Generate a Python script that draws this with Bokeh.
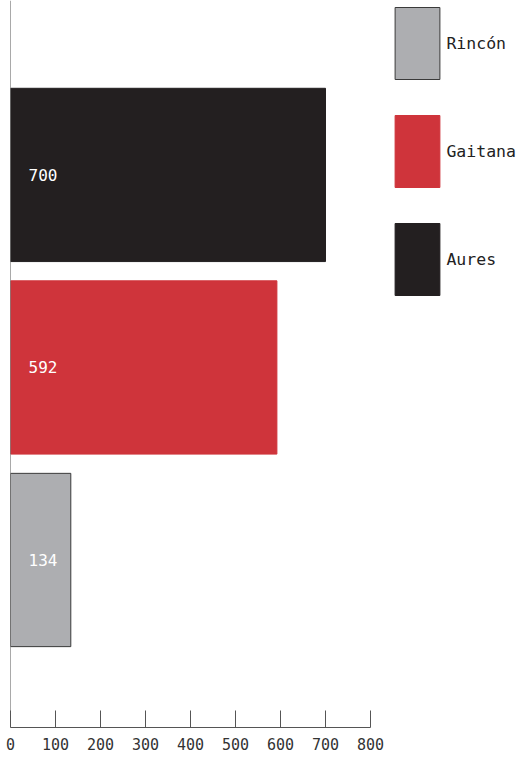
from bokeh.plotting import figure
from bokeh.models import ColumnDataSource, FixedTicker, Span, Legend, LegendItem, Range1d
from bokeh.embed import file_html
from bokeh.resources import INLINE
from bokeh.core.properties import value

categories = ["Rincón", "Gaitana", "Aures"]
values = [134, 592, 700]
colors = ["#adaeb1", "#cf343b", "#231f20"]
outlines = ["#3a3a3a", "#cf343b", "#231f20"]
x_ticks = [0, 100, 200, 300, 400, 500, 600, 700, 800]

FONT = "DejaVu Sans Mono"

src = ColumnDataSource(dict(
    y=list(range(len(categories))),
    lbl=[str(v) for v in values],
    lx=[40] * len(values),
))

# frame spans x=10..519 px; axis 0..800 occupies the first 360 px
p = figure(width=519, height=757, output_backend="svg", toolbar_location=None,
           x_range=Range1d(0, 800 * 509 / 360), y_range=Range1d(-0.87, 2.906),
           min_border_left=10, min_border_right=0, min_border_top=0, min_border_bottom=30)
p.outline_line_color = None
p.border_fill_color = "white"
p.background_fill_color = "white"
p.xgrid.visible = False
p.ygrid.visible = False
p.yaxis.visible = False

renderers = []
for i, cat in enumerate(categories):
    sub = ColumnDataSource(dict(y=[i], v=[values[i]]))
    r = p.hbar(y="y", right="v", left=0, height=0.9, source=sub,
               fill_color=colors[i], line_color=outlines[i], line_width=1)
    renderers.append(r)

p.text(x="lx", y="y", text="lbl", source=src, text_color="white",
       text_font=value(FONT), text_font_size="16px", text_baseline="middle", text_align="left")

p.add_layout(Span(location=0, dimension="height", line_color="#555555", line_width=1))

ax = p.xaxis[0]
ax.bounds = (0, 800)
ax.ticker = FixedTicker(ticks=x_ticks)
ax.major_tick_in = 17
ax.major_tick_out = 0
ax.minor_tick_in = 0
ax.minor_tick_out = 0
ax.axis_line_color = "#555555"
ax.major_tick_line_color = "#555555"
ax.major_label_text_font = FONT
ax.major_label_text_font_size = "15px"
ax.major_label_text_color = "#333333"
ax.major_label_standoff = 10

legend = Legend(items=[LegendItem(label=categories[i], renderers=[renderers[i]]) for i in range(3)],
                location=(379.4, 423), glyph_width=56, glyph_height=90, spacing=18,
                label_standoff=1, margin=0, padding=0, border_line_color=None,
                background_fill_alpha=0, label_text_font=FONT, label_text_font_size="16.5px",
                label_text_color="#222222", label_height=90)
p.add_layout(legend, "center")

open("out.html", "w").write(file_html(p, INLINE))
